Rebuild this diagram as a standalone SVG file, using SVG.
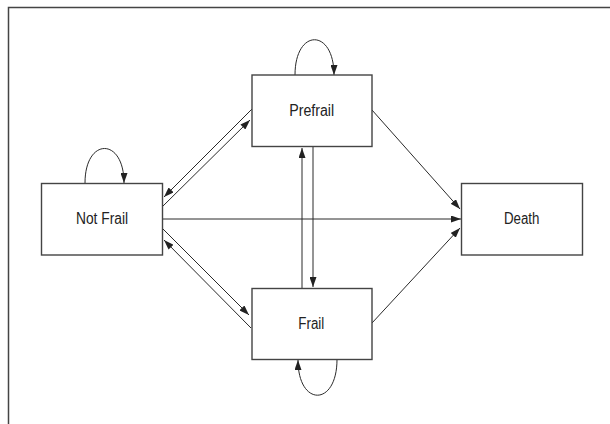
<svg xmlns="http://www.w3.org/2000/svg" width="610" height="424" viewBox="0 0 610 424">
  <style>
    .box { fill: #fff; stroke: #444; stroke-width: 1.4; }
    .lbl { font-family: "Liberation Sans", Arial, sans-serif; font-size: 16px; fill: #222; text-anchor: middle; }
    .edge { fill: none; stroke: #2a2a2a; stroke-width: 1; marker-end: url(#arr); }
  </style>
  <defs>
    <marker id="arr" markerUnits="userSpaceOnUse" markerWidth="10" markerHeight="7" refX="10" refY="3.5" orient="auto">
      <path d="M0,0 L10,3.5 L0,7 z" fill="#222"/>
    </marker>
  </defs>
  <rect width="610" height="424" fill="#fff"/>
  <path d="M8.5,424 V7.5 H610" fill="none" stroke="#444" stroke-width="1.5"/>
  <g id="connectors">
    <path class="edge" d="M162,219 H461"/>
    <path class="edge" d="M372,110 L460,209"/>
    <path class="edge" d="M372,323 L460,228"/>
    <path class="edge" d="M252,109 L164,197"/>
    <path class="edge" d="M162,207 L250,120"/>
    <path class="edge" d="M162,228 L249,315"/>
    <path class="edge" d="M251,328 L164,240"/>
    <path class="edge" d="M302,288 L302,148"/>
    <path class="edge" d="M313,147 L313,287"/>
    <path class="edge" d="M85,183 C85,137 124,137 124,183"/>
    <path class="edge" d="M295,75 C295,28 334,28 334,75"/>
    <path class="edge" d="M337,359.5 C337,407 298,407 298,360"/>
  </g>
  <g id="not-frail">
    <rect class="box" x="41.5" y="183.5" width="121" height="71.5"/>
    <text class="lbl" x="102" y="224" textLength="52" lengthAdjust="spacingAndGlyphs">Not Frail</text>
  </g>
  <g id="prefrail">
    <rect class="box" x="252" y="75" width="120" height="71.5"/>
    <text class="lbl" x="311.7" y="116" textLength="45" lengthAdjust="spacingAndGlyphs">Prefrail</text>
  </g>
  <g id="frail">
    <rect class="box" x="252" y="288.5" width="120" height="71"/>
    <text class="lbl" x="311.3" y="329" textLength="26" lengthAdjust="spacingAndGlyphs">Frail</text>
  </g>
  <g id="death">
    <rect class="box" x="461.5" y="183.5" width="121" height="71.5"/>
    <text class="lbl" x="521.7" y="224" textLength="35.5" lengthAdjust="spacingAndGlyphs">Death</text>
  </g>
</svg>
